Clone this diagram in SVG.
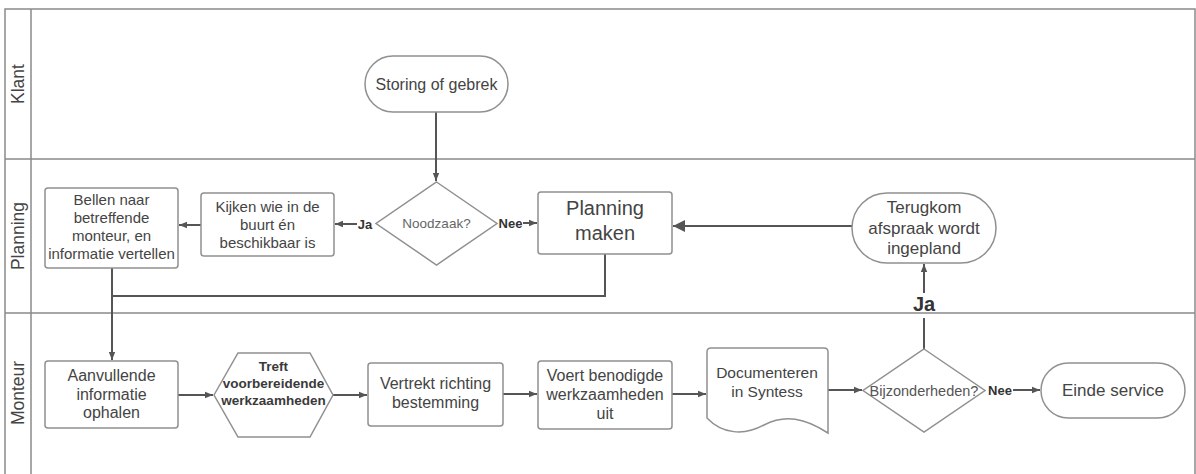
<svg xmlns="http://www.w3.org/2000/svg" width="1196" height="474" viewBox="0 0 1196 474">
<defs>
<style>
.lane{fill:none;stroke:#8a8a8a;stroke-width:1.5}
.node{fill:#fff;stroke:#909090;stroke-width:1.5}
.t{font-family:"Liberation Sans",Arial,sans-serif;fill:#444;text-anchor:middle}
.lbl{font-family:"Liberation Sans",Arial,sans-serif;fill:#333;font-weight:bold;text-anchor:middle}
.c{fill:none;stroke:#555;stroke-width:2}
</style>
<marker id="ah" viewBox="0 0 10 10" refX="10" refY="5" markerWidth="4" markerHeight="4" orient="auto" markerUnits="strokeWidth">
<path d="M0,1 L10,5 L0,9 z" fill="#555"/>
</marker>
<marker id="big" viewBox="0 0 10 10" refX="10" refY="5" markerWidth="9" markerHeight="6" orient="auto" markerUnits="strokeWidth">
<path d="M0,0 L10,5 L0,10 z" fill="#555"/>
</marker>
</defs>
<rect width="1196" height="474" fill="#fff"/>
<g id="lanes">
<rect class="lane" x="5" y="9" width="1190" height="466"/>
<line class="lane" x1="31" y1="9" x2="31" y2="474"/>
<line class="lane" x1="5" y1="159" x2="1195" y2="159"/>
<line class="lane" x1="5" y1="313" x2="1195" y2="313"/>
<text class="t" font-size="17.5" transform="translate(24,84) rotate(-90)">Klant</text>
<text class="t" font-size="17.5" transform="translate(24,236) rotate(-90)">Planning</text>
<text class="t" font-size="17.5" transform="translate(24,393) rotate(-90)">Monteur</text>
</g>
<g id="connectors">
<line class="c" x1="436" y1="112" x2="436" y2="181" marker-end="url(#ah)"/>
<line class="c" x1="357" y1="224" x2="335" y2="224" marker-end="url(#ah)"/>
<line class="c" x1="201" y1="225" x2="179" y2="225" marker-end="url(#ah)"/>
<line class="c" x1="523" y1="223" x2="537" y2="223" marker-end="url(#ah)"/>
<line class="c" x1="852" y1="226" x2="673" y2="226" stroke-width="2.5" marker-end="url(#big)"/>
<polyline class="c" points="605,254 605,296 112,296"/>
<line class="c" x1="112" y1="268" x2="112" y2="360" marker-end="url(#ah)"/>
<line class="c" x1="178" y1="395" x2="213" y2="395" marker-end="url(#ah)"/>
<line class="c" x1="333" y1="395" x2="367" y2="395" marker-end="url(#ah)"/>
<line class="c" x1="503" y1="394" x2="537" y2="394" marker-end="url(#ah)"/>
<line class="c" x1="672" y1="394" x2="706" y2="394" marker-end="url(#ah)"/>
<line class="c" x1="828" y1="390" x2="862" y2="390" marker-end="url(#ah)"/>
<line class="c" x1="1013" y1="390" x2="1040" y2="390" marker-end="url(#ah)"/>
<line class="c" x1="924" y1="349" x2="924" y2="318"/>
<line class="c" x1="924" y1="293" x2="924" y2="264" marker-end="url(#ah)"/>
<text class="lbl" font-size="13" x="365" y="228.5">Ja</text>
<text class="lbl" font-size="13" x="510.5" y="227.5">Nee</text>
<text class="lbl" font-size="13" x="1000" y="394.5">Nee</text>
<text class="lbl" font-size="20" x="924" y="311">Ja</text>
</g>
<g id="storing">
<rect class="node" x="365" y="56" width="143" height="56" rx="28"/>
<text class="t" font-size="16" x="436.5" y="90">Storing of gebrek</text>
</g>
<g id="noodzaak">
<polygon class="node" points="436.5,182 497,223.5 436.5,265 376,223.5"/>
<text class="t" font-size="13.5" x="436.5" y="228" style="fill:#666">Noodzaak?</text>
</g>
<g id="kijken">
<rect class="node" x="201" y="193" width="133" height="63" rx="3"/>
<text class="t" font-size="15"><tspan x="267.5" y="212">Kijken wie in de</tspan><tspan x="267.5" y="230">buurt én</tspan><tspan x="267.5" y="248">beschikbaar is</tspan></text>
</g>
<g id="bellen">
<rect class="node" x="45" y="188" width="133" height="80" rx="3"/>
<text class="t" font-size="15"><tspan x="111.5" y="205">Bellen naar</tspan><tspan x="111.5" y="223">betreffende</tspan><tspan x="111.5" y="241">monteur, en</tspan><tspan x="111.5" y="259">informatie vertellen</tspan></text>
</g>
<g id="planning">
<rect class="node" x="538" y="192" width="134" height="62" rx="3"/>
<text class="t" font-size="20"><tspan x="605" y="215">Planning</tspan><tspan x="605" y="240">maken</tspan></text>
</g>
<g id="terugkom">
<rect class="node" x="852" y="193" width="144" height="70" rx="35"/>
<text class="t" font-size="17"><tspan x="924" y="213">Terugkom</tspan><tspan x="924" y="233.5">afspraak wordt</tspan><tspan x="924" y="254">ingepland</tspan></text>
</g>
<g id="aanvullende">
<rect class="node" x="45" y="361" width="133" height="67" rx="3"/>
<text class="t" font-size="16"><tspan x="111.5" y="381">Aanvullende</tspan><tspan x="111.5" y="399.5">informatie</tspan><tspan x="111.5" y="418">ophalen</tspan></text>
</g>
<g id="treft">
<polygon class="node" points="214,395 238,353 310,353 333,395 310,437 238,437"/>
<text class="t" font-size="13.5" font-weight="bold" style="fill:#3a3a3a"><tspan x="273.5" y="371">Treft</tspan><tspan x="273.5" y="388">voorbereidende</tspan><tspan x="273.5" y="405">werkzaamheden</tspan></text>
</g>
<g id="vertrekt">
<rect class="node" x="368" y="363" width="135" height="63" rx="3"/>
<text class="t" font-size="16"><tspan x="435.5" y="389">Vertrekt richting</tspan><tspan x="435.5" y="408">bestemming</tspan></text>
</g>
<g id="voert">
<rect class="node" x="538" y="361" width="134" height="68" rx="3"/>
<text class="t" font-size="16"><tspan x="605" y="381">Voert benodigde</tspan><tspan x="605" y="400">werkzaamheden</tspan><tspan x="605" y="419">uit</tspan></text>
</g>
<g id="documenteren">
<path class="node" d="M707,418 L707,352 Q707,348 711,348 L824,348 Q828,348 828,352 L828,433 C805,418 785,414 764,425 C744,436 722,434 707,418 Z"/>
<text class="t" font-size="15.5"><tspan x="767" y="378">Documenteren</tspan><tspan x="767" y="397">in Syntess</tspan></text>
</g>
<g id="bijzonderheden">
<polygon class="node" points="924,349 985,390.5 924,432 863,390.5"/>
<text class="t" font-size="14.5" x="924" y="395.5" style="fill:#555">Bijzonderheden?</text>
</g>
<g id="einde">
<rect class="node" x="1041" y="363" width="144" height="55" rx="27.5"/>
<text class="t" font-size="17" x="1113" y="396">Einde service</text>
</g>
</svg>
